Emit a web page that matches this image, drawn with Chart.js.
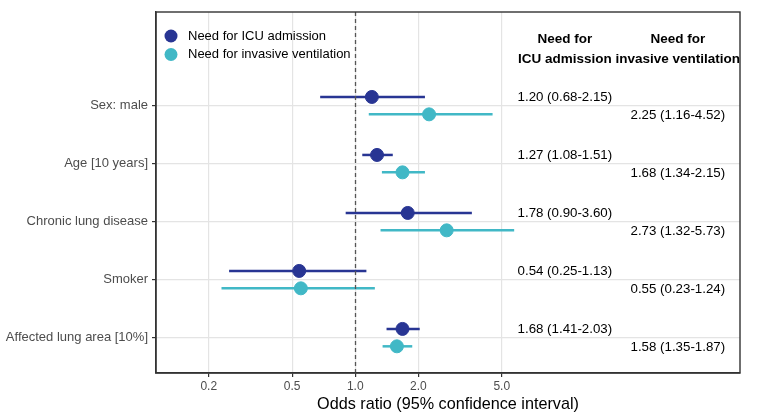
<!DOCTYPE html>
<html>
<head>
<meta charset="utf-8">
<script src="https://cdn.jsdelivr.net/npm/chart.js@4.4.0/dist/chart.umd.min.js"></script>
<style>
  body { margin: 0; background: #fff; }
  #wrap { width: 760px; height: 419px; }
</style>
</head>
<body>
<div id="wrap"><canvas id="forestChart" width="760" height="419"></canvas></div>
<script>
// Predictors, top to bottom
const labels = ['Sex: male', 'Age [10 years]', 'Chronic lung disease', 'Smoker', 'Affected lung area [10%]'];

// Need for ICU admission
const icuOR = [1.20, 1.27, 1.78, 0.54, 1.68];
const icuLow = [0.68, 1.08, 0.90, 0.25, 1.41];
const icuHigh = [2.15, 1.51, 3.60, 1.13, 2.03];

// Need for invasive ventilation
const ventOR = [2.25, 1.68, 2.73, 0.55, 1.58];
const ventLow = [1.16, 1.34, 1.32, 0.23, 1.35];
const ventHigh = [4.52, 2.15, 5.73, 1.24, 1.87];

const xTicks = [0.2, 0.5, 1, 2, 5];

const icuColor = '#283593';
const ventColor = '#41b8c6';
const fontFam = '"Liberation Sans", Arial, sans-serif';

// y position of each row (top row highest)
const rowY = labels.map((l, i) => labels.length - i);

function fmt(v) { return v.toFixed(2); }

const datasets = [];
// confidence interval bars
labels.forEach(function (l, i) {
    datasets.push({
        type: 'line',
        data: [{ x: icuLow[i], y: rowY[i] + 0.15 }, { x: icuHigh[i], y: rowY[i] + 0.15 }],
        borderColor: icuColor, borderWidth: 2.5, pointRadius: 0, order: 2
    });
    datasets.push({
        type: 'line',
        data: [{ x: ventLow[i], y: rowY[i] - 0.15 }, { x: ventHigh[i], y: rowY[i] - 0.15 }],
        borderColor: ventColor, borderWidth: 2.5, pointRadius: 0, order: 2
    });
});
// point estimates
datasets.push({
    label: 'Need for ICU admission',
    data: icuOR.map((v, i) => ({ x: v, y: rowY[i] + 0.15 })),
    backgroundColor: icuColor, borderColor: icuColor, pointRadius: 6.5, order: 1
});
datasets.push({
    label: 'Need for invasive ventilation',
    data: ventOR.map((v, i) => ({ x: v, y: rowY[i] - 0.15 })),
    backgroundColor: ventColor, borderColor: ventColor, pointRadius: 6.5, order: 1
});

// dashed reference line, panel border, text columns and legend
const forestExtras = {
    id: 'forestExtras',
    afterDatasetsDraw(chart) {
        const ctx = chart.ctx;
        const xs = chart.scales.x;
        const ys = chart.scales.y;
        const area = chart.chartArea;
        ctx.save();

        // no-effect line
        const x1 = Math.round(xs.getPixelForValue(1)) + 0.5;
        ctx.strokeStyle = '#555';
        ctx.lineWidth = 1.3;
        ctx.setLineDash([4, 3]);
        ctx.beginPath();
        ctx.moveTo(x1, area.top);
        ctx.lineTo(x1, area.bottom);
        ctx.stroke();
        ctx.setLineDash([]);

        // columns of estimates
        const colIcu = xs.getPixelForValue(10);
        const colVent = xs.getPixelForValue(34.6);
        ctx.fillStyle = '#000';
        ctx.textAlign = 'center';
        ctx.textBaseline = 'middle';
        ctx.font = 'bold 13.5px ' + fontFam;
        ctx.fillText('Need for', colIcu, 39);
        ctx.fillText('ICU admission', colIcu, 59);
        ctx.fillText('Need for', colVent, 39);
        ctx.fillText('invasive ventilation', colVent, 59);

        ctx.font = '13.3px ' + fontFam;
        labels.forEach(function (l, i) {
            ctx.fillText(fmt(icuOR[i]) + ' (' + fmt(icuLow[i]) + '-' + fmt(icuHigh[i]) + ')',
                colIcu, ys.getPixelForValue(rowY[i] + 0.15));
            ctx.fillText(fmt(ventOR[i]) + ' (' + fmt(ventLow[i]) + '-' + fmt(ventHigh[i]) + ')',
                colVent, ys.getPixelForValue(rowY[i] - 0.15) + 1);
        });

        // legend
        const legendItems = [['Need for ICU admission', icuColor], ['Need for invasive ventilation', ventColor]];
        ctx.font = '13px ' + fontFam;
        ctx.textAlign = 'left';
        legendItems.forEach(function (item, k) {
            const ly = area.top + 24 + k * 18.5;
            ctx.fillStyle = item[1];
            ctx.beginPath();
            ctx.arc(area.left + 15, ly, 6.5, 0, Math.PI * 2);
            ctx.fill();
            ctx.fillStyle = '#000';
            ctx.fillText(item[0], area.left + 32, ly);
        });

        // panel border
        ctx.strokeStyle = '#333';
        ctx.lineWidth = 1.4;
        ctx.strokeRect(area.left, area.top, area.right - area.left, area.bottom - area.top);
        ctx.restore();
    }
};

new Chart(document.getElementById('forestChart').getContext('2d'), {
    type: 'scatter',
    data: { datasets: datasets },
    options: {
        responsive: false,
        animation: false,
        layout: { padding: { top: 12, right: 20, left: 0, bottom: 0 } },
        scales: {
            x: {
                type: 'logarithmic',
                min: 0.112,
                max: 68.5,
                afterBuildTicks: function (scale) {
                    scale.ticks = xTicks.map(v => ({ value: v }));
                },
                afterFit: function (scale) { scale.height = 46; },
                ticks: {
                    color: '#4d4d4d',
                    font: { family: fontFam, size: 12 },
                    padding: 2,
                    maxRotation: 0,
                    autoSkip: false,
                    callback: function (v) { return Number(v).toFixed(1); }
                },
                grid: { color: '#e4e4e4', lineWidth: 1.2, tickColor: '#333', tickLength: 4 },
                border: { color: '#333', width: 1.4 },
                title: {
                    display: true,
                    text: 'Odds ratio (95% confidence interval)',
                    color: '#000',
                    font: { family: fontFam, size: 16.2 },
                    padding: { top: 0, bottom: 5 }
                }
            },
            y: {
                type: 'linear',
                min: 0.39,
                max: 6.615,
                afterBuildTicks: function (scale) {
                    scale.ticks = rowY.map(v => ({ value: v }));
                },
                afterFit: function (scale) { scale.width = 156; },
                ticks: {
                    color: '#4d4d4d',
                    font: { family: fontFam, size: 13 },
                    padding: 4,
                    autoSkip: false,
                    callback: function (v) {
                        const i = rowY.indexOf(v);
                        return i >= 0 ? labels[i] : '';
                    }
                },
                grid: { color: '#e4e4e4', lineWidth: 1.2, tickColor: '#333', tickLength: 4 },
                border: { color: '#333', width: 1.4 }
            }
        },
        plugins: {
            legend: { display: false },
            tooltip: { enabled: false }
        }
    },
    plugins: [forestExtras]
});
</script>
</body>
</html>
